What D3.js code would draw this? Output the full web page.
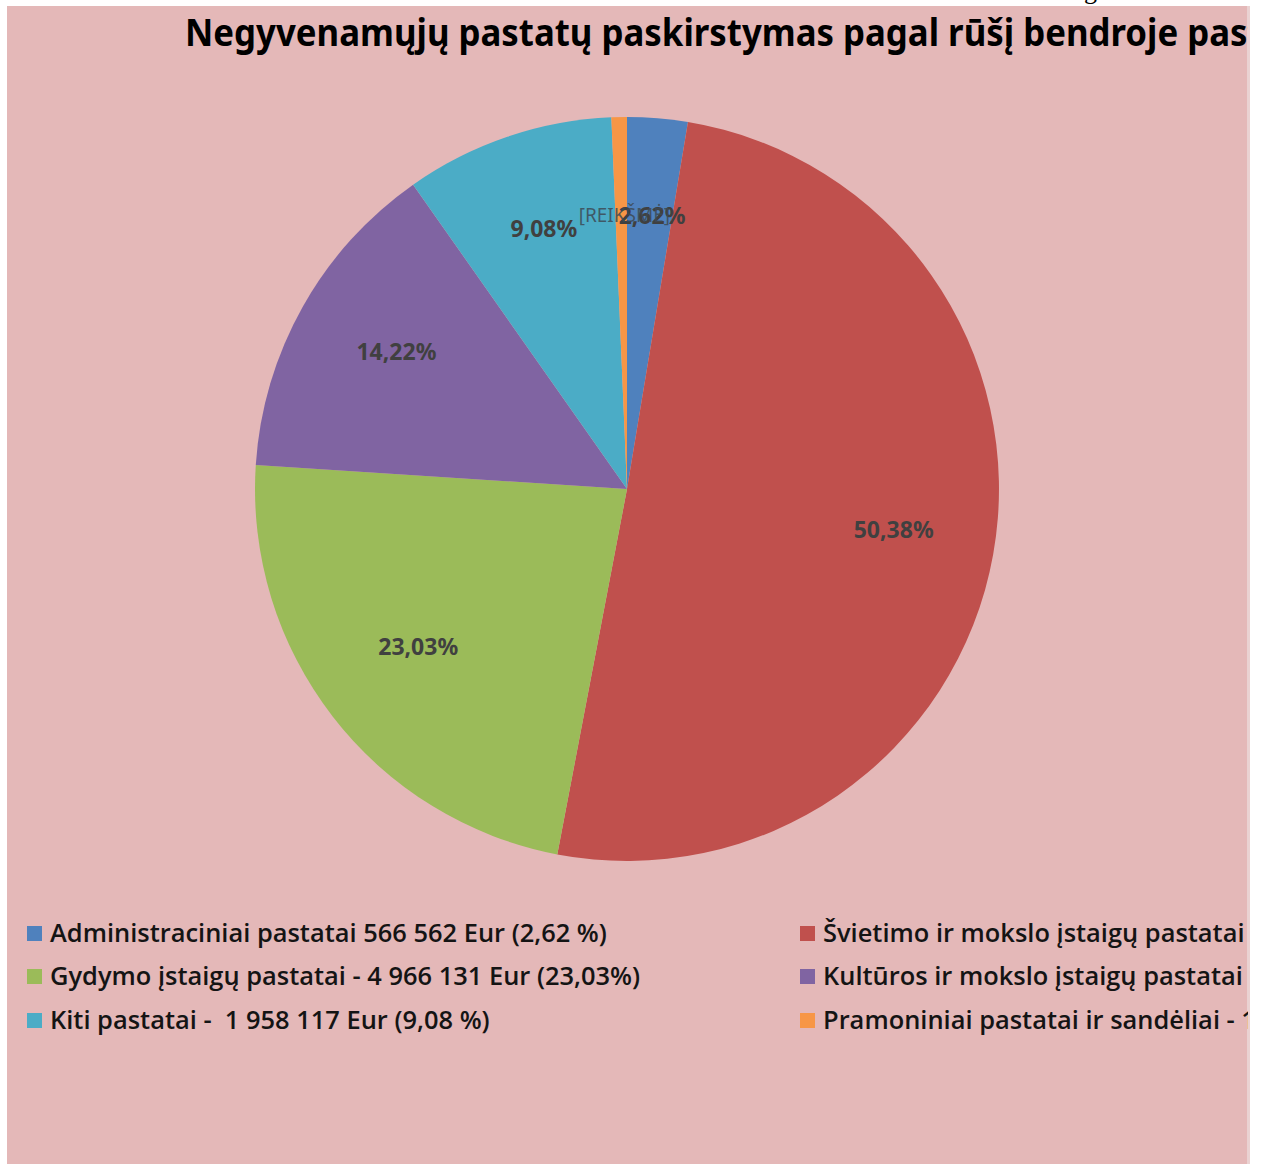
<!DOCTYPE html>
<html>
<head>
<meta charset="utf-8">
<script src="https://cdn.jsdelivr.net/npm/d3@7"></script>
<style>
  body { margin: 0; background: #fff; }
  svg { display: block; }
  text { white-space: pre; }
</style>
</head>
<body>
<div id="chart"></div>
<script>
// pie data, clockwise from 12 o'clock
const categories = [
  "Administraciniai pastatai",
  "Švietimo ir mokslo įstaigų pastatai",
  "Gydymo įstaigų pastatai",
  "Kultūros ir mokslo įstaigų pastatai",
  "Kiti pastatai",
  "Pramoniniai pastatai ir sandėliai"
];
const shares = [2.62, 50.38, 23.03, 14.22, 9.08, 0.67];
const sliceLabels = ["2,62%", "50,38%", "23,03%", "14,22%", "9,08%", "[REIKŠMĖ]"];
const legendLabels = [
  "Administraciniai pastatai 566 562 Eur (2,62 %)",
  "Švietimo ir mokslo įstaigų pastatai - 10 863 000 Eur (50,38 %)",
  "Gydymo įstaigų pastatai - 4 966 131 Eur (23,03%)",
  "Kultūros ir mokslo įstaigų pastatai - 3 066 000 Eur (14,22 %)",
  "Kiti pastatai -  1 958 117 Eur (9,08 %)",
  "Pramoniniai pastatai ir sandėliai - 144 000 Eur (0,67 %)"
];
const colors = ["#4f81bd", "#c0504d", "#9bbb59", "#8064a2", "#4bacc6", "#f79646"];
const titleText = "Negyvenamųjų pastatų paskirstymas pagal rūšį bendroje pastatų vertėje";
const titleVisible = "Negyvenamųjų pastatų paskirstymas pagal rūšį bendroje pas";

const width = 1265, height = 1164;
const cx = 627, cy = 489, radius = 372;

const svg = d3.select("#chart").append("svg")
  .attr("width", width)
  .attr("height", height)
  .attr("viewBox", `0 0 ${width} ${height}`);

svg.append("defs").append("clipPath").attr("id", "frame")
  .append("rect").attr("x", 7).attr("y", 0).attr("width", 1241).attr("height", height);

// stray glyph from the page above
svg.append("text")
  .attr("x", 1084).attr("y", -1)
  .style("font-family", "'Liberation Serif', serif")
  .style("font-size", "26px")
  .attr("fill", "#000")
  .text("g");

svg.append("rect")
  .attr("x", 7).attr("y", 6)
  .attr("width", 1241).attr("height", height - 6)
  .attr("fill", "#e4b8b8");
svg.append("rect")
  .attr("x", 1247).attr("y", 6)
  .attr("width", 3).attr("height", height - 6)
  .attr("fill", "#ead2d2");

const root = svg.append("g").attr("clip-path", "url(#frame)");

// squeeze a text horizontally so its first `n` chars span `target` px
function fitX(sel, n, target) {
  const node = sel.node();
  const w = node.getSubStringLength(0, n);
  return target / w;
}

// title
const titleG = root.append("g");
const title = titleG.append("text")
  .attr("x", 0).attr("y", 0)
  .style("font-family", "'Noto Sans', 'Open Sans', sans-serif")
  .style("font-weight", "bold")
  .style("font-size", "38px")
  .attr("fill", "#000")
  .text(titleText);
const kt = fitX(title, titleVisible.length, 1063);
titleG.attr("transform", `translate(185,46) scale(${kt},1)`);

// pie
const pie = d3.pie().sort(null).value(d => d)(shares);
const arc = d3.arc().innerRadius(0).outerRadius(radius);
const labelArc = d3.arc().innerRadius(radius * 0.72).outerRadius(radius * 0.72);

const pg = root.append("g").attr("transform", `translate(${cx},${cy})`);

pg.selectAll("path")
  .data(pie)
  .join("path")
  .attr("d", arc)
  .attr("fill", (d, i) => colors[i]);

pg.selectAll("text")
  .data(pie)
  .join("text")
  .attr("transform", d => {
    const [x, y] = labelArc.centroid(d);
    return `translate(${x + 3},${y - 6})`;
  })
  .attr("text-anchor", "middle")
  .attr("dy", "0.35em")
  .style("font-family", "'Noto Sans', 'Open Sans', sans-serif")
  .style("font-weight", (d, i) => i === 5 ? "normal" : "bold")
  .style("font-size", (d, i) => i === 5 ? "19px" : "23px")
  .attr("fill", (d, i) => i === 5 ? "#3d4a55" : "#404040")
  .attr("fill-opacity", (d, i) => i === 5 ? 0.85 : 1)
  .text((d, i) => sliceLabels[i]);

// legend, two columns, row-major
const colX = [27, 800];
const rowY = [933, 976, 1020];
const lg = root.append("g");

const items = lg.selectAll("g.item")
  .data(legendLabels)
  .join("g")
  .attr("class", "item");

items.append("rect")
  .attr("x", (d, i) => colX[i % 2])
  .attr("y", (d, i) => rowY[Math.floor(i / 2)] - 7)
  .attr("width", 15).attr("height", 15)
  .attr("fill", (d, i) => colors[i]);

const ltexts = items.append("text")
  .attr("x", 0).attr("y", 0)
  .attr("dy", "0.35em")
  .style("font-family", "'Open Sans', 'Noto Sans', sans-serif")
  .style("font-weight", "600")
  .style("font-size", "25px")
  .attr("fill", "#141414")
  .text(d => d);

const kl = fitX(d3.select(ltexts.nodes()[0]), legendLabels[0].length, 557);
ltexts.attr("transform", (d, i) =>
  `translate(${colX[i % 2] + 23},${rowY[Math.floor(i / 2)]}) scale(${kl},1)`);
</script>
</body>
</html>
